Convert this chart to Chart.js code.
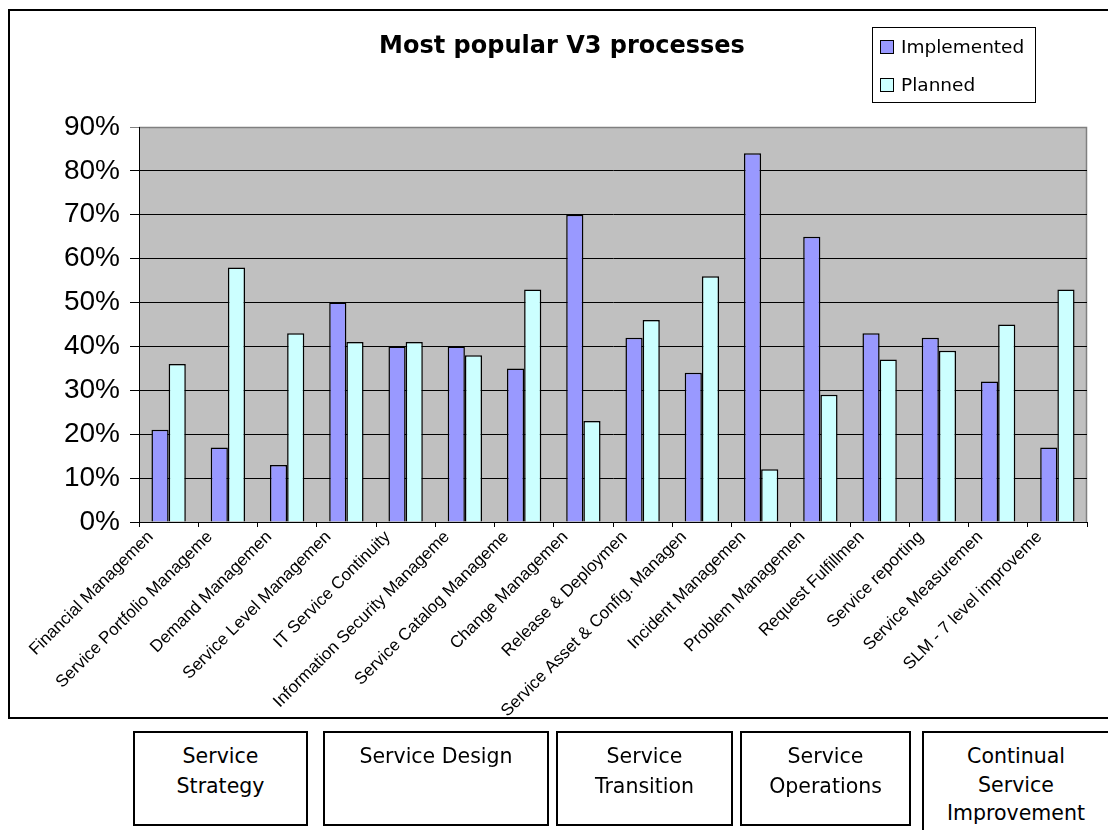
<!DOCTYPE html>
<html>
<head>
<meta charset="utf-8">
<script src="https://cdn.jsdelivr.net/npm/chart.js@4.4.0/dist/chart.umd.min.js"></script>
<style>
html,body{margin:0;padding:0;background:#fff;width:1108px;height:830px;overflow:hidden;position:relative;}
#frame{position:absolute;left:8px;top:9px;width:1200px;height:710px;border:2px solid #000;box-sizing:border-box;}
#chart{position:absolute;left:0;top:0;}
.box{position:absolute;top:731px;height:95px;border:2px solid #000;box-sizing:border-box;
  font-family:'DejaVu Sans',sans-serif;font-size:20.5px;line-height:29.5px;text-align:center;padding-top:9px;color:#000;background:#fff;}
</style>
</head>
<body>
<div id="frame"></div>
<canvas id="chart" width="1108" height="830"></canvas>
<div class="box" style="left:133px;width:175px;">Service<br>Strategy</div>
<div class="box" style="left:323px;width:226px;">Service Design</div>
<div class="box" style="left:556px;width:177px;">Service<br>Transition</div>
<div class="box" style="left:740px;width:171px;">Service<br>Operations</div>
<div class="box" style="left:922px;width:188px;height:120px;line-height:28.5px;">Continual<br>Service<br>Improvement</div>
<script>
// Full process names (categories)
const categories = [
  "Financial Management", "Service Portfolio Management", "Demand Management",
  "Service Level Management", "IT Service Continuity", "Information Security Management",
  "Service Catalog Management", "Change Management", "Release & Deployment",
  "Service Asset & Config. Management", "Incident Management", "Problem Management",
  "Request Fulfillment", "Service reporting", "Service Measurement", "SLM - 7 level improvement"
];
// Tick labels as visible (clipped) in the original chart
const tickLabels = [
  "Financial Managemen", "Service Portfolio Manageme", "Demand Managemen",
  "Service Level Managemen", "IT Service Continuity", "Information Security Manageme",
  "Service Catalog Manageme", "Change Managemen", "Release & Deploymen",
  "Service Asset & Config. Managen", "Incident Managemen", "Problem Managemen",
  "Request Fulfillmen", "Service reporting", "Service Measuremen", "SLM - 7 level improveme"
];
const implemented = [21, 17, 13, 50, 40, 40, 35, 70, 42, 34, 84, 65, 43, 42, 32, 17];
const planned     = [36, 58, 43, 41, 41, 38, 53, 23, 46, 56, 12, 29, 37, 39, 45, 53];
const seriesNames = ["Implemented", "Planned"];
const yMax = 90;
const yStep = 10;
const titleText = "Most popular V3 processes";

const plotBg = {
  id: 'plotBg',
  beforeDraw(chart) {
    const {ctx, chartArea: a} = chart;
    ctx.save();
    ctx.fillStyle = '#C0C0C0';
    ctx.fillRect(a.left, a.top, a.right - a.left, a.bottom - a.top);
    ctx.strokeStyle = '#808080';
    ctx.lineWidth = 1.5;
    ctx.beginPath();
    ctx.moveTo(a.left, a.top + 0.5);
    ctx.lineTo(a.right - 0.5, a.top + 0.5);
    ctx.lineTo(a.right - 0.5, a.bottom);
    ctx.stroke();
    ctx.restore();
  }
};

const titleLegend = {
  id: 'titleLegend',
  afterDraw(chart) {
    const ctx = chart.ctx;
    ctx.save();
    ctx.fillStyle = '#000';
    ctx.font = "bold 24px 'DejaVu Sans', sans-serif";
    ctx.textAlign = 'center';
    ctx.textBaseline = 'alphabetic';
    ctx.fillText(titleText, 562, 53);
    // legend box
    ctx.strokeStyle = '#000';
    ctx.lineWidth = 1;
    ctx.strokeRect(872.5, 27.5, 163, 75);
    const ys = [47, 85];
    ctx.font = "18.5px 'DejaVu Sans', sans-serif";
    ctx.textAlign = 'left';
    ctx.textBaseline = 'middle';
    chart.data.datasets.forEach((ds, i) => {
      const y = ys[i];
      ctx.fillStyle = ds.backgroundColor;
      ctx.fillRect(880.5, y - 6.5, 13, 13);
      ctx.strokeStyle = '#000';
      ctx.strokeRect(880.5, y - 6.5, 13, 13);
      ctx.fillStyle = '#000';
      ctx.fillText(ds.label, 901, y + 1);
    });
    ctx.restore();
  }
};

new Chart(document.getElementById('chart'), {
  type: 'bar',
  data: {
    labels: categories,
    datasets: [
      { label: seriesNames[0], data: implemented, backgroundColor: '#9999FF', borderColor: '#000', borderWidth: 1.5, borderSkipped: 'start' },
      { label: seriesNames[1], data: planned, backgroundColor: '#CCFFFF', borderColor: '#000', borderWidth: 1.5, borderSkipped: 'start' }
    ]
  },
  options: {
    responsive: false,
    animation: false,
    devicePixelRatio: 1,
    layout: { padding: { left: 0, top: 127, right: 21, bottom: 98 } },
    datasets: { bar: { barPercentage: 1.0, categoryPercentage: 0.58 } },
    plugins: { legend: { display: false }, title: { display: false }, tooltip: { enabled: false } },
    scales: {
      x: {
        offset: true,
        grid: { display: true, drawOnChartArea: false, drawTicks: true, tickLength: 5, color: '#000', lineWidth: 1, offset: true },
        border: { color: '#000', width: 1 },
        ticks: {
          autoSkip: false, maxRotation: 45, minRotation: 45, padding: 0, labelOffset: -18,
          color: '#000', font: { family: "'Liberation Sans', Arial, sans-serif", size: 17 },
          callback: (v, i) => tickLabels[i]
        },
        afterFit: s => { s.height = 210; s.paddingLeft = 0; s.paddingRight = 0; }
      },
      y: {
        min: 0, max: yMax,
        ticks: {
          stepSize: yStep, padding: 10, color: '#000',
          font: { family: "'Liberation Sans', Arial, sans-serif", size: 28 },
          callback: v => v + '%'
        },
        grid: { color: c => (c.tick && c.tick.value === yMax) ? '#808080' : '#000', lineWidth: 1, tickLength: 9, drawTicks: true },
        border: { color: '#000', width: 1 },
        afterFit: s => { s.width = 139; }
      }
    }
  },
  plugins: [plotBg, titleLegend]
});
</script>
</body>
</html>
